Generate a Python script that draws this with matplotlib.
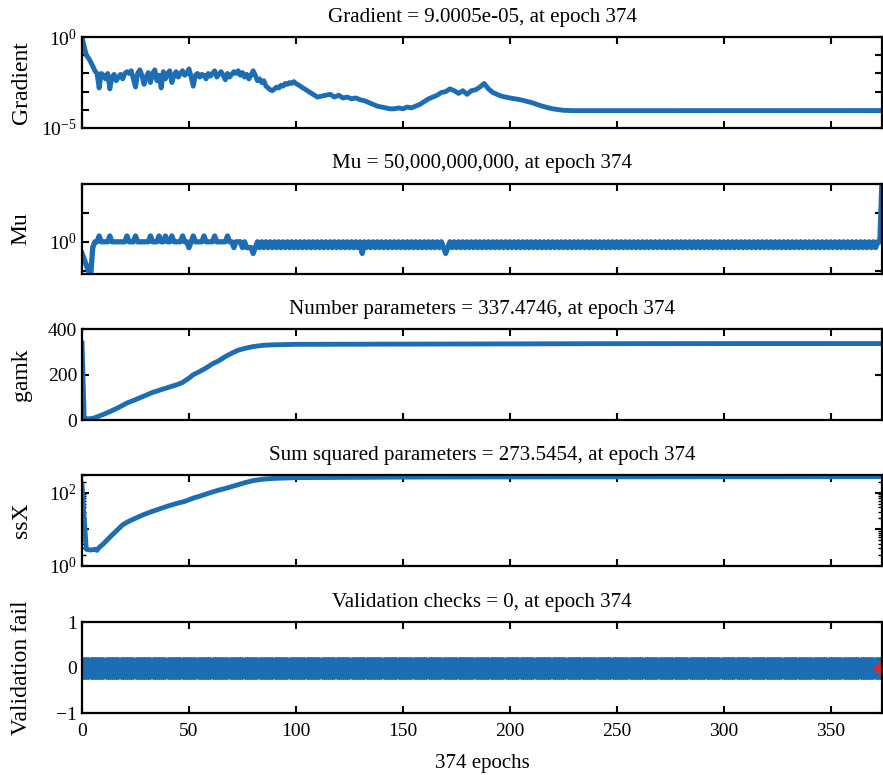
import numpy as np
import matplotlib
matplotlib.use("Agg")
import matplotlib.pyplot as plt
from matplotlib.ticker import FixedLocator, NullLocator, FixedFormatter, LogLocator

plt.rcParams["font.family"] = ["Liberation Serif", "DejaVu Serif"]
plt.rcParams["mathtext.fontset"] = "custom"
plt.rcParams["mathtext.rm"] = "Liberation Serif"
plt.rcParams["mathtext.it"] = "Liberation Serif:italic"
plt.rcParams["font.size"] = 14

BLUE = "#1c6db4"
last_epoch = 374

# gradient (log10) read along the training run
grad_epochs = [0, 1, 2, 3, 4, 5, 6, 7, 8, 9, 10, 11, 12, 13, 14, 15, 16, 17, 18, 19,
               20, 21, 22, 23, 24, 25, 26, 27, 28, 29, 30, 31, 32, 33, 34, 35, 36, 37, 38, 39,
               40, 41, 42, 43, 44, 45, 46, 47, 48, 49, 50, 51, 52, 53, 54, 55, 56, 57, 58, 59,
               60, 61, 62, 63, 64, 65, 66, 67, 68, 69, 70, 71, 72, 73, 74, 75, 76, 77, 78, 79,
               80, 81, 82, 83, 84, 85, 86, 87, 88, 89, 90, 91, 92, 93, 94, 95, 96, 97, 98, 99,
               100, 102, 104, 106, 108, 110, 112, 114, 116, 118, 120, 122, 124, 126, 128, 130,
               132, 134, 136, 138, 140, 142, 144, 146, 148, 150, 152, 154, 156, 158, 160, 162,
               164, 166, 168, 170, 172, 174, 176, 178, 180, 182, 184, 186, 188, 190, 192, 194,
               196, 200, 205, 210, 215, 220, 225, 230, 260, 300, 340, 374]
grad_log = [0.0, -0.5, -1.0, -1.15, -1.35, -1.6, -1.85, -2.0, -2.8, -2.0, -2.1, -2.3, -2.0, -2.85, -2.2, -2.05, -2.4, -2.2, -2.05, -2.3,
            -2.0, -1.9, -2.0, -1.85, -2.3, -2.75, -2.0, -1.8, -2.1, -2.6, -2.2, -1.95, -2.5, -2.0, -1.8, -2.4, -2.1, -2.8, -1.9, -2.3,
            -2.0, -1.85, -2.5, -2.1, -1.9, -2.2, -2.0, -1.85, -2.1, -2.0, -1.75, -2.2, -2.7, -2.1, -2.0, -2.2, -2.05, -2.1, -2.3, -2.0,
            -2.15, -2.0, -1.85, -2.2, -2.05, -1.9, -2.1, -2.35, -2.0, -2.2, -2.05, -1.9, -2.0, -1.85, -2.1, -1.95, -2.2, -2.05, -2.3, -2.1,
            -1.85, -2.1, -2.4, -2.3, -2.5, -2.4, -2.7, -2.8, -2.9, -2.95, -2.85, -2.75, -2.8, -2.65, -2.7, -2.55, -2.6, -2.5, -2.55, -2.45,
            -2.55, -2.7, -2.85, -3.0, -3.15, -3.3, -3.25, -3.2, -3.15, -3.3, -3.2, -3.35, -3.3, -3.4, -3.35, -3.45,
            -3.5, -3.6, -3.7, -3.8, -3.85, -3.9, -3.95, -3.95, -3.9, -3.95, -3.85, -3.9, -3.8, -3.7, -3.55, -3.4,
            -3.3, -3.2, -3.05, -3.0, -2.85, -2.95, -3.1, -2.95, -3.15, -2.95, -2.9, -2.75, -2.55, -2.85, -3.05, -3.15,
            -3.25, -3.35, -3.45, -3.6, -3.8, -3.95, -4.03, -4.05, -4.05, -4.05, -4.05, -4.0457]

# mu (log10) for every epoch 0..374
mu_log = [
    -2, -3, -4, -5, -6, -1, 0, 0, 1, 0, 0, 0, 0, 1, 0, 0, 0, 0, 0, 0, 0, 1, 0, 0, 0,
    1, 0, 0, 0, 0, 0, 0, 1, 0, 0, 0, 1, 0, 0, 1, 0, 0, 1, 0, 0, 0, 0, 1, 0, 0,
    -1, 0, 1, 0, 0, 0, 0, 1, 0, 0, 0, 0, 1, 0, 0, 0, 0, 0, 1, 0, 0, -1, 0, 0, 0,
    -1, 0, -1, -1, -1, -2, -1, 0, -1, 0, -1, 0, -1, 0, -1, 0, -1, 0, -1, 0, -1, 0, -1, 0, -1,
    0, -1, 0, -1, 0, -1, 0, -1, 0, -1, 0, -1, 0, -1, 0, -1, 0, -1, 0, -1, 0, -1, 0, -1, 0,
    -1, 0, -1, 0, -1, 0, -2, 0, -1, 0, -1, 0, -1, 0, -1, 0, -1, 0, -1, 0, -1, 0, -1, 0, -1,
    0, -1, 0, -1, 0, -1, 0, -1, 0, -1, 0, -1, 0, -1, 0, -1, 0, -1, 0, -1, -2, -1, 0, -1, 0,
    -1, 0, -1, 0, -1, 0, -1, 0, -1, 0, -1, 0, -1, 0, -1, 0, -1, 0, -1, 0, -1, 0, -1, 0, -1,
    0, -1, 0, -1, 0, -1, 0, -1, 0, -1, 0, -1, 0, -1, 0, -1, 0, -1, 0, -1, 0, -1, 0, -1, 0,
    -1, 0, -1, 0, -1, 0, -1, 0, -1, 0, -1, 0, -1, 0, -1, 0, -1, 0, -1, 0, -1, 0, -1, 0, -1,
    0, -1, 0, -1, 0, -1, 0, -1, 0, -1, 0, -1, 0, -1, 0, -1, 0, -1, 0, -1, 0, -1, 0, -1, 0,
    -1, 0, -1, 0, -1, 0, -1, 0, -1, 0, -1, 0, -1, 0, -1, 0, -1, 0, -1, 0, -1, 0, -1, 0, -1,
    0, -1, 0, -1, 0, -1, 0, -1, 0, -1, 0, -1, 0, -1, 0, -1, 0, -1, 0, -1, 0, -1, 0, -1, 0,
    -1, 0, -1, 0, -1, 0, -1, 0, -1, 0, -1, 0, -1, 0, -1, 0, -1, 0, -1, 0, -1, 0, -1, 0, -1,
    0, -1, 0, -1, 0, -1, 0, -1, 0, -1, 0, -1, 0, -1, 0, -1, 0, -1, 0, -1, 0, -1, 0, 0, 10.7,
]

# effective number of parameters
gamk_epochs = [0, 1, 2, 4, 6, 10, 13, 17, 21, 25, 29, 33, 37, 41, 45, 47, 50, 52, 55, 58,
               61, 64, 67, 70, 73, 76, 80, 85, 90, 100, 150, 200, 250, 300, 374]
gamk = [340, 10, 5, 6, 10, 25, 37, 55, 75, 90, 106, 122, 134, 146, 158, 166, 185, 200, 214, 230,
        248, 262, 280, 295, 308, 316, 324, 330, 332, 334, 335, 336, 337, 337.3, 337.4746]

# sum squared parameters (log10)
ssx_epochs = [0, 1, 2, 4, 6, 7, 8, 10, 13, 16, 19, 22, 25, 28, 32, 36, 40, 44, 48, 52,
              56, 60, 64, 68, 72, 76, 80, 85, 90, 100, 150, 200, 300, 374]
ssx_log = [2.18, 1.3, 0.45, 0.43, 0.45, 0.42, 0.5, 0.6, 0.78, 0.95, 1.12, 1.22, 1.3, 1.38, 1.47, 1.55, 1.63, 1.7, 1.76, 1.85,
           1.92, 2.0, 2.07, 2.13, 2.2, 2.27, 2.33, 2.37, 2.39, 2.41, 2.425, 2.43, 2.435, 2.437]

val_fail = np.zeros(last_epoch + 1)

titles = ["Gradient = 9.0005e-05, at epoch 374",
          "Mu = 50,000,000,000, at epoch 374",
          "Number parameters = 337.4746, at epoch 374",
          "Sum squared parameters = 273.5454, at epoch 374",
          "Validation checks = 0, at epoch 374"]
ylabels = ["Gradient", "Mu", "gamk", "ssX", "Validation fail"]

fig = plt.figure(figsize=(8.83, 7.75), dpi=100)
bottoms = [0.835, 0.646, 0.458, 0.270, 0.080]
axes = [fig.add_axes([0.0929, b, 0.906, 0.117]) for b in bottoms]

for ax, t, yl in zip(axes, titles, ylabels):
    ax.set_xlim(0, last_epoch)
    ax.set_xticks(range(0, 351, 50))
    ax.set_title(t, pad=11, fontsize=15.1)
    ax.set_ylabel(yl, fontsize=17)
    ax.yaxis.set_label_coords(-0.063, 0.5)
    ax.tick_params(direction="in", top=True, right=True, length=5, width=1.5)
    ax.tick_params(axis="x", pad=7)
    ax.tick_params(which="minor", direction="in", right=True, length=3, width=1)
    for s in ax.spines.values():
        s.set_linewidth(1.6)
    if ax is not axes[-1]:
        ax.tick_params(labelbottom=False)

ep_all = np.arange(last_epoch + 1)

ax = axes[0]
ax.plot(grad_epochs, 10.0 ** np.array(grad_log), color=BLUE, lw=3.5, solid_joinstyle="round")
ax.set_yscale("log")
ax.set_ylim(1e-5, 1e0)
ax.yaxis.set_major_locator(FixedLocator([1e-5, 1e-4, 1e-3, 1e-2, 1e-1, 1e0]))
ax.yaxis.set_major_formatter(FixedFormatter([r"$\mathregular{10^{-5}}$", "", "", "", "", r"$\mathregular{10^{0}}$"]))
ax.yaxis.set_minor_locator(NullLocator())

ax = axes[1]
ax.plot(ep_all, 10.0 ** np.array(mu_log, dtype=float), color=BLUE, lw=3.8, solid_joinstyle="round")
ax.set_yscale("log")
ax.set_ylim(10 ** -5.6, 1e10)
ax.yaxis.set_major_locator(FixedLocator([1e-5, 1e0, 1e5, 1e10]))
ax.yaxis.set_major_formatter(FixedFormatter(["", r"$\mathregular{10^{0}}$", "", ""]))
ax.yaxis.set_minor_locator(NullLocator())

ax = axes[2]
ax.plot(gamk_epochs, gamk, color=BLUE, lw=3.5, solid_joinstyle="round")
ax.set_ylim(0, 400)
ax.set_yticks([0, 200, 400])

ax = axes[3]
ax.plot(ssx_epochs, 10.0 ** np.array(ssx_log), color=BLUE, lw=3.5, solid_joinstyle="round")
ax.set_yscale("log")
ax.set_ylim(1e0, 10 ** 2.48)
ax.yaxis.set_major_locator(FixedLocator([1e0, 1e1, 1e2]))
ax.yaxis.set_major_formatter(FixedFormatter([r"$\mathregular{10^{0}}$", "", r"$\mathregular{10^{2}}$"]))
ax.yaxis.set_minor_locator(LogLocator(subs=np.arange(2, 10)))
ax.yaxis.set_minor_formatter(FixedFormatter([]))

ax = axes[4]
ax.plot(ep_all, val_fail, color=BLUE, lw=2, marker="D", ms=11, mec=BLUE, mfc=BLUE)
ax.plot([last_epoch], [val_fail[-1]], ls="none", marker="D", ms=8, color="#e8262a")
ax.set_ylim(-1, 1)
ax.set_yticks([-1, 0, 1])
ax.set_yticklabels(["\u22121", "0", "1"])
ax.set_xlabel("374 epochs", fontsize=15, labelpad=10)

fig.savefig("out.png", dpi=100)
